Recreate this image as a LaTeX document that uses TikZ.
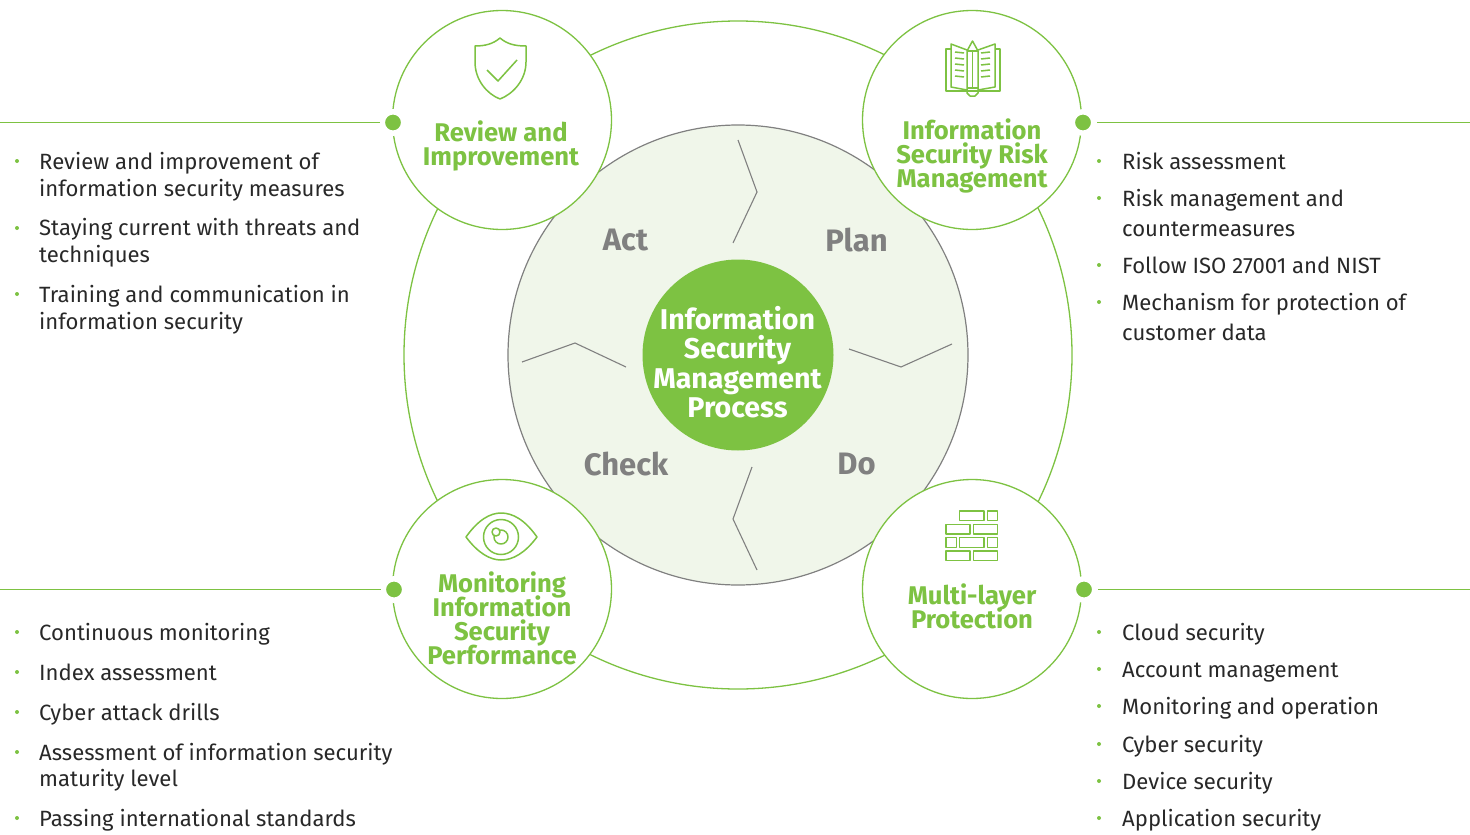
\documentclass[tikz,border=0pt]{standalone}
\usepackage{fontspec}
\setmainfont{Fira Sans}
\usetikzlibrary{positioning}
\definecolor{leaf}{RGB}{125, 194, 66}
\definecolor{pale}{RGB}{240, 246, 234}
\definecolor{stone}{RGB}{128, 128, 128}
\definecolor{ink}{RGB}{40, 40, 40}
\tikzset{
	stage/.style={circle, draw=leaf, fill=white, line width=1.3pt, minimum size=219pt, inner sep=0pt},
	stagetext/.style={align=center, text=leaf, font=\fontsize{25.6}{24}\bfseries\selectfont\lineskiplimit-50pt\relax},
	phase/.style={text=stone, font=\fontsize{31}{31}\bfseries\selectfont},
	dotnode/.style={circle, fill=leaf, draw=white, line width=5.5pt, minimum size=21.5pt, inner sep=0pt},
	bullet/.style={circle, fill=leaf, minimum size=4pt, inner sep=0pt},
	item/.style={anchor=base west, align=left, text=ink, inner sep=0pt},
	icon/.style={draw=leaf, line width=1.5pt, line join=round},
}
\begin{document}
\begin{tikzpicture}[x=1pt, y=-1pt]
	\useasboundingbox (0,0) rectangle (1470,835);

	\node[circle, draw=leaf, line width=1.3pt, minimum size=668pt, inner sep=0pt] (ring) at (738,355) {};
	\node[circle, draw=stone, fill=pale, line width=1.2pt, minimum size=460pt, inner sep=0pt] (disk) at (738,355) {};

	\draw[stone, line width=1.1pt] (738,140) -- (757,192) -- (733,243);
	\draw[stone, line width=1.1pt] (849,349) -- (901,367) -- (952,344);
	\draw[stone, line width=1.1pt] (752,467) -- (733,519) -- (757,570);
	\draw[stone, line width=1.1pt] (626,367) -- (575,343) -- (522,362);

	\node[circle, fill=leaf, minimum size=191pt, inner sep=0pt] (hub) at (738,355) {};
	\node[align=center, text=white, font=\fontsize{28.6}{29.4}\bfseries\selectfont\lineskiplimit-50pt\relax] (hubtext) at (737.5,362) {Information\\Security\\Management\\Process};

	\node[phase] (act) at (625.5,240) {Act};
	\node[phase] (plan) at (856.5,240) {Plan};
	\node[phase] (check) at (626,464) {Check};
	\node[phase] (do) at (856.5,464) {Do};

	\node[stage] (review) at (502,120) {};
	\node[stage] (risk) at (972,120) {};
	\node[stage] (monitor) at (502,589) {};
	\node[stage] (layer) at (972,589) {};

	\node[stagetext] (reviewtext) at (501,146) {Review and\\Improvement};
	\node[stagetext] (risktext) at (972,156) {Information\\Security Risk\\Management};
	\node[stagetext] (monitortext) at (502,618) {Monitoring\\Information\\Security\\Performance};
	\node[stagetext] (layertext) at (972,606) {Multi-layer\\Protection};

	\node[dotnode] (dotTL) at (393,122.5) {};
	\node[dotnode] (dotTR) at (1083,122.5) {};
	\node[dotnode] (dotBL) at (394,589.5) {};
	\node[dotnode] (dotBR) at (1084,589.5) {};

	\coordinate (endTL) at (0,122.5);
	\coordinate (endTR) at (1470,122.5);
	\coordinate (endBL) at (0,589.5);
	\coordinate (endBR) at (1470,589.5);
	\draw[leaf, line width=1pt] (endTL) -- (dotTL);
	\draw[leaf, line width=1pt] (endTR) -- (dotTR);
	\draw[leaf, line width=1pt] (endBL) -- (dotBL);
	\draw[leaf, line width=1pt] (endBR) -- (dotBR);

	\draw[icon] (500,38) .. controls (493,44) and (485,46) .. (475,46) -- (475,62) .. controls (475,80) and (487,94) .. (500,99) .. controls (513,94) and (526,80) .. (526,62) -- (526,46) .. controls (515,46) and (507,44) .. (500,38) -- cycle;
	\draw[icon] (487,70) -- (498,81) -- (517,60);

	\draw[icon] (951,49) -- (946,49) -- (946,91) -- (1000,91) -- (1000,49) -- (995,49);
	\draw[icon] (967,50) -- (951,44) -- (951,87) -- (967,90);
	\draw[icon] (978,50) -- (995,44) -- (995,87) -- (978,90);
	\draw[icon] (967,51) -- (972.5,41) -- (978,51) -- (978,93) -- (975,96) -- (970,96) -- (967,93) -- cycle;
	\draw[icon] (967,51) -- (978,51);
	\draw[icon] (967,88) -- (978,88);
	\draw[icon] (972.5,51) -- (972.5,88);
	\foreach \y in {52,58,64,70,76}{
		\draw[icon] (955,\y) -- (964,\y+1);
		\draw[icon] (981,\y+1) -- (990,\y);
	}

	\draw[icon] (466,537) .. controls (478,520) and (490,513) .. (501,513) .. controls (513,513) and (525,520) .. (537,537) .. controls (525,553) and (513,560) .. (501,560) .. controls (490,560) and (478,553) .. (466,537) -- cycle;
	\draw[icon] (501,537) circle (17.5);
	\draw[icon] (501,537) circle (7);
	\draw[icon, fill=white] (496,532) circle (4);

	\foreach \a/\b/\c/\d in {959.3/511/984/520.7, 987.3/511/997.7/520.7, 946/524.3/970/534, 973.3/524.3/997.7/534, 946/537.7/956.7/547.3, 959.3/537.7/984/547.3, 987.3/537.7/997.7/547.3, 946/551/970/560.7, 973.3/551/997.7/560.7}{
		\draw[icon] (\a,\b) rectangle (\c,\d);
	}

	\foreach \n/\y/\z/\t in {1/161/188/{Review and improvement of\\information security measures}, 2/228/254/{Staying current with threats and\\techniques}, 3/294/321/{Training and communication in\\information security}}{
		\node[bullet] (bulTL\n) at (17,\y) {};
		\node[item, font=\fontsize{22.1}{26.7}\selectfont] (itemTL\n) at (39,\z+8) {\t};
	}
	\foreach \n/\y/\z/\t in {1/161/161/{Risk assessment}, 2/198/228/{Risk management and\\countermeasures}, 3/265/265/{Follow ISO 27001 and NIST}, 4/302/332/{Mechanism for protection of\\customer data}}{
		\node[bullet] (bulTR\n) at (1099,\y) {};
		\node[item, font=\fontsize{22.1}{30}\selectfont] (itemTR\n) at (1122,\z+8) {\t};
	}
	\foreach \n/\y/\z/\t in {1/632/632/{Continuous monitoring}, 2/672/672/{Index assessment}, 3/712/712/{Cyber attack drills}, 4/752/778/{Assessment of information security\\maturity level}, 5/818/818/{Passing international standards}}{
		\node[bullet] (bulBL\n) at (17,\y) {};
		\node[item, font=\fontsize{22.1}{26}\selectfont] (itemBL\n) at (39,\z+8) {\t};
	}
	\foreach \n/\y/\t in {1/632/{Cloud security}, 2/669/{Account management}, 3/706/{Monitoring and operation}, 4/744/{Cyber security}, 5/781/{Device security}, 6/818/{Application security}}{
		\node[bullet] (bulBR\n) at (1099,\y) {};
		\node[item, font=\fontsize{22.1}{26}\selectfont] (itemBR\n) at (1122,\y+8) {\t};
	}
\end{tikzpicture}
\end{document}
